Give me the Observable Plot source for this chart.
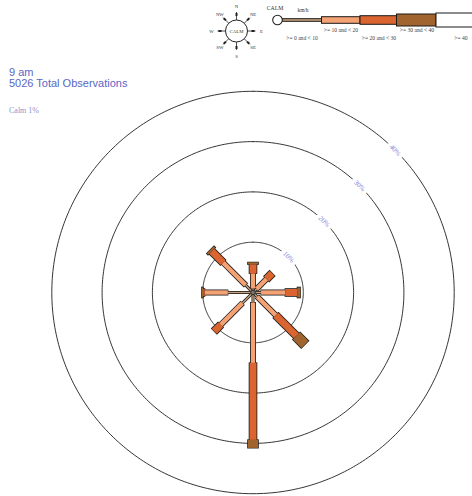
<!DOCTYPE html>
<html><head><meta charset="utf-8">
<script src="https://cdn.jsdelivr.net/npm/d3@7"></script>
<script src="https://cdn.jsdelivr.net/npm/@observablehq/plot@0.6"></script>
<style>
html,body{margin:0;padding:0;background:#fff;}
#wrap{position:relative;width:472px;height:496px;overflow:hidden;background:#fff;}
#chart,#legend{position:absolute;left:0;top:0;}
.title{position:absolute;left:9px;top:67px;font-family:"Liberation Sans",Arial,sans-serif;color:#5a66c4;font-size:11px;line-height:11px;}
.calm{position:absolute;left:9px;top:106px;font-family:"Liberation Serif","Times New Roman",serif;font-size:8px;color:#8893d0;}
</style></head><body>
<div id="wrap">
  <div id="chart"></div>
  <div id="legend"></div>
  <div class="title" id="title"></div>
  <div class="calm" id="calm"></div>
</div>
<script>
// ---- data ----
const directions = ["N","NE","E","SE","S","SW","W","NW"];
const angles = [0,45,90,135,180,225,270,315];
const speedClasses = [">= 0 and < 10", ">= 10 and < 20", ">= 20 and < 30", ">= 30 and < 40", ">= 40"];
const pct0to10  = [0.8, 1.0, 1.6, 1.2, 2.0, 3.0, 5.0, 2.1];
const pct10to20 = [3.0, 2.8, 4.8, 5.2, 12.0, 6.1, 4.6, 6.3];
const pct20to30 = [1.8, 1.6, 2.4, 5.8, 15.3, 1.8, 0.3, 3.2];
const pct30to40 = [0.4, 0.0, 0.6, 2.4, 1.6, 0.0, 0.3, 0.4];
const pct40plus = [0, 0, 0, 0, 0, 0, 0, 0];
const ringValues = [10, 20, 30, 40];
const ringLabels = ["10%", "20%", "30%", "40%"];
const timeLabel = "9 am";
const totalObservations = 5026;
const calmPercent = 1;
const compassLabels = ["N","NE","E","SE","S","SW","W","NW"];
const unitLabel = "km/h";

// ---- styles ----
const classColors = ["#c9a27c", "#f4a174", "#da6531", "#a1642f", "#ffffff"];
const classWidths = [1.4, 4.4, 7, 10, 12];
const W = 472, H = 496, CX = 252.5, CY = 292, K = 5.03; // px per percent

document.getElementById("title").innerHTML = `${timeLabel}<br>${totalObservations} Total Observations`;
document.getElementById("calm").textContent = `Calm ${calmPercent}%`;

const series = [pct0to10, pct10to20, pct20to30, pct30to40, pct40plus];
const rows = [];
directions.forEach((dir, i) => {
  let cum = 0;
  series.forEach((s, j) => {
    const v = s[i];
    if (v > 0) rows.push({dir, ang: angles[i], cls: j, r0: cum, r1: cum + v});
    cum += v;
  });
});
const rad = a => a * Math.PI / 180;
const px = (r, a) => r * Math.sin(rad(a));
const py = (r, a) => r * Math.cos(rad(a));
const e = 0.55 / K;

const ringPts = [];
ringValues.forEach(r => { for (let a = 0; a <= 360; a += 1) ringPts.push({ring: r, x: px(r, a), y: py(r, a)}); });

const chart = Plot.plot({
  width: W, height: H, margin: 0,
  x: {domain: [-CX / K, (W - CX) / K], range: [0, W], axis: null},
  y: {domain: [-(H - CY) / K, CY / K], range: [H, 0], axis: null},
  color: {type: "identity"},
  marks: [
    Plot.line(ringPts, {x: "x", y: "y", z: "ring", stroke: "#1e1e1e", strokeWidth: 0.9}),
    Plot.text(ringValues, {x: d => px(d, 45), y: d => py(d, 45), text: (d, i) => ringLabels[i], rotate: 45,
      fill: "#7f84d6", stroke: "white", strokeWidth: 7, fontSize: 7, fontFamily: "Liberation Serif, serif"}),
    Plot.link(rows, {x1: d => px(d.r0 - e, d.ang), y1: d => py(d.r0 - e, d.ang), x2: d => px(d.r1 + e, d.ang), y2: d => py(d.r1 + e, d.ang),
      stroke: "#1a1a1a", strokeWidth: d => classWidths[d.cls] + 1.6}),
    Plot.link(rows, {x1: d => px(d.r0, d.ang), y1: d => py(d.r0, d.ang), x2: d => px(d.r1, d.ang), y2: d => py(d.r1, d.ang),
      stroke: d => classColors[d.cls], strokeWidth: d => classWidths[d.cls]}),
    Plot.dot([0], {x: () => 0, y: () => 0, r: 2.3, fill: "#777", stroke: "#111", strokeWidth: 0.8})
  ]
});
document.getElementById("chart").appendChild(chart);

// ---- legend (compass + speed key) ----
const svg = d3.select("#legend").append("svg").attr("width", W).attr("height", 60)
  .style("font-family", "Liberation Serif, serif");
const cc = {x: 236.5, y: 31, r: 11};
compassLabels.forEach((lab, i) => {
  const a = rad(angles[i]);
  const sx = Math.sin(a), sy = -Math.cos(a);
  svg.append("line").attr("x1", cc.x + sx * cc.r).attr("y1", cc.y + sy * cc.r)
    .attr("x2", cc.x + sx * 19).attr("y2", cc.y + sy * 19).attr("stroke", "#222").attr("stroke-width", 0.8);
  svg.append("line").attr("x1", cc.x + sx * 15).attr("y1", cc.y + sy * 15)
    .attr("x2", cc.x + sx * 18).attr("y2", cc.y + sy * 18).attr("stroke", "#222").attr("stroke-width", 2);
  const lr = i % 2 ? 23.5 : 25;
  svg.append("text").attr("x", cc.x + sx * lr).attr("y", cc.y + sy * lr).attr("dy", "0.35em")
    .attr("text-anchor", "middle").attr("font-size", 4.8).attr("fill", "#333").text(lab);
});
svg.append("circle").attr("cx", cc.x).attr("cy", cc.y).attr("r", cc.r).attr("fill", "white").attr("stroke", "#222").attr("stroke-width", 1);
svg.append("text").attr("x", cc.x).attr("y", cc.y).attr("dy", "0.35em").attr("text-anchor", "middle")
  .attr("font-size", 4.8).attr("fill", "#333").text("CALM");

svg.append("text").attr("x", 275).attr("y", 9.5).attr("text-anchor", "middle").attr("font-size", 5.8).attr("fill", "#333").text("CALM");
svg.append("text").attr("x", 303).attr("y", 12).attr("text-anchor", "middle").attr("font-size", 5.4).attr("fill", "#333").text(unitLabel);
const keyX = [282, 321.5, 360, 396.5, 436, 476];
const keyH = [2.6, 6.6, 8.6, 12, 14];
speedClasses.forEach((lab, j) => {
  svg.append("rect").attr("x", keyX[j]).attr("y", 20 - keyH[j] / 2).attr("width", keyX[j + 1] - keyX[j]).attr("height", keyH[j])
    .attr("fill", classColors[j]).attr("stroke", "#1a1a1a").attr("stroke-width", 1);
});
svg.append("circle").attr("cx", 277.5).attr("cy", 20).attr("r", 4.8).attr("fill", "white").attr("stroke", "#222").attr("stroke-width", 1.1);
const labX = [302, 341, 379, 417, 461];
speedClasses.forEach((lab, j) => {
  svg.append("text").attr("x", labX[j]).attr("y", j % 2 ? 31.5 : 40).attr("text-anchor", "middle")
    .attr("font-size", 5.6).attr("fill", "#444").text(lab);
});
</script>
</body></html>
